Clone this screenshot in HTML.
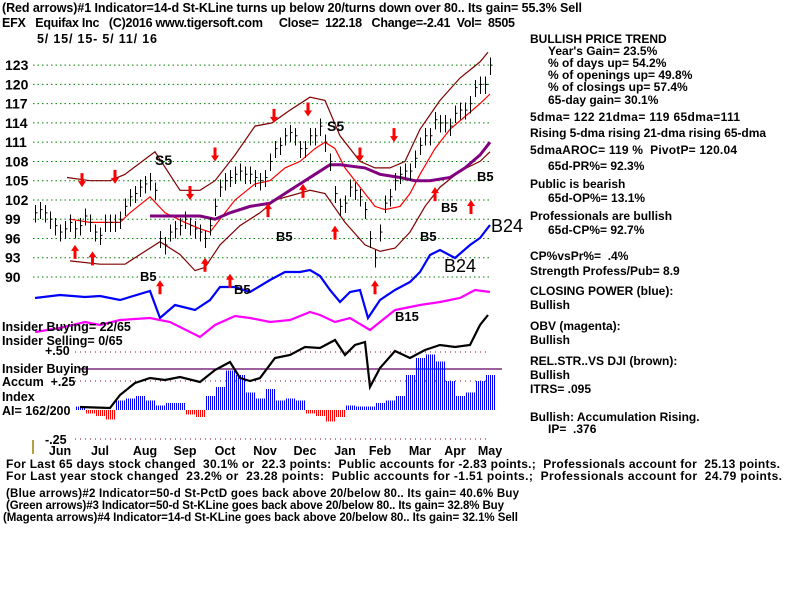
<!DOCTYPE html>
<html><head><meta charset="utf-8"><style>
body{margin:0;background:#fff;}
svg{display:block;font-family:"Liberation Sans",sans-serif;font-weight:bold;}
</style></head><body>
<svg id="chart" width="800" height="600" viewBox="0 0 800 600">
<g font-size="12.5">
<text x="2" y="12" textLength="580">(Red arrows)#1 Indicator=14-d St-KLine turns up below 20/turns down over 80.. Its gain= 55.3% Sell</text>
<text x="2" y="27" textLength="513" xml:space="preserve">EFX   Equifax Inc   (C)2016 www.tigersoft.com     Close=  122.18   Change=-2.41  Vol=  8505</text>
<text x="37" y="43" textLength="120" xml:space="preserve">5/ 15/ 15- 5/ 11/ 16</text>
</g>
<g id="grid"></g>
<g id="ylabels" font-size="14"></g>
<g id="series"></g>
<g font-size="12.5">
<text x="2" y="331">Insider Buying= 22/65</text>
<text x="2" y="345">Insider Selling= 0/65</text>
<text x="45" y="355">+.50</text>
<text x="2" y="373">Insider Buying</text>
<text x="2" y="386" xml:space="preserve">Accum  +.25</text>
<text x="2" y="401">Index</text>
<text x="2" y="415">AI= 162/200</text>
<text x="45" y="444">-.25</text>
<line x1="33" y1="440" x2="33" y2="454" stroke="#a08000" stroke-width="1.5"/>
</g>
<g id="months" font-size="12.5"></g>
<g font-size="12">
<text x="530" y="43">BULLISH PRICE TREND</text>
<text x="548" y="55">Year's Gain= 23.5%</text>
<text x="548" y="67">% of days up= 54.2%</text>
<text x="548" y="79">% of openings up= 49.8%</text>
<text x="548" y="91">% of closings up= 57.4%</text>
<text x="548" y="104">65-day gain= 30.1%</text>
<text x="530" y="121" textLength="210">5dma= 122 21dma= 119 65dma=111</text>
<text x="530" y="137" textLength="236">Rising 5-dma  rising 21-dma  rising 65-dma</text>
<text x="530" y="154" textLength="207" xml:space="preserve">5dmaAROC= 119 %  PivotP= 120.04</text>
<text x="548" y="170">65d-PR%= 92.3%</text>
<text x="530" y="188">Public is bearish</text>
<text x="548" y="202">65d-OP%= 13.1%</text>
<text x="530" y="220">Professionals are bullish</text>
<text x="548" y="234">65d-CP%= 92.7%</text>
<text x="530" y="260" xml:space="preserve">CP%vsPr%=  .4%</text>
<text x="530" y="275">Strength Profess/Pub= 8.9</text>
<text x="530" y="295">CLOSING POWER (blue):</text>
<text x="530" y="309">Bullish</text>
<text x="530" y="330">OBV (magenta):</text>
<text x="530" y="344">Bullish</text>
<text x="530" y="365">REL.STR..VS DJI (brown):</text>
<text x="530" y="379">Bullish</text>
<text x="530" y="393">ITRS= .095</text>
<text x="530" y="421">Bullish: Accumulation Rising.</text>
<text x="548" y="433" xml:space="preserve">IP=  .376</text>
</g>
<g font-size="12">
<text x="6" y="468" textLength="774" xml:space="preserve">For Last 65 days stock changed  30.1% or  22.3 points:  Public accounts for -2.83 points.;  Professionals account for  25.13 points.</text>
<text x="6" y="480" textLength="776" xml:space="preserve">For Last year stock changed  23.2% or  23.28 points:  Public accounts for -1.51 points.;  Professionals account for  24.79 points.</text>
<text x="6" y="497" textLength="513" font-size="11.5">(Blue arrows)#2 Indicator=50-d St-PctD goes back above 20/below 80.. Its gain= 40.6% Buy</text>
<text x="6" y="509" textLength="498" font-size="11.5">(Green arrows)#3 Indicator=50-d St-KLine goes back above 20/below 80.. Its gain= 32.8% Buy</text>
<text x="3" y="521" textLength="515" font-size="11.5">(Magenta arrows)#4 Indicator=14-d St-KLine goes back above 20/below 80.. Its gain= 32.1% Sell</text>
</g>
</svg>
<script>
// ---- data ----
const priceTicks = [123,120,117,114,111,108,105,102,99,96,93,90];
const months = ["Jun","Jul","Aug","Sep","Oct","Nov","Dec","Jan","Feb","Mar","Apr","May"];
const monthDays = [5,13,22,30,38,46,54,62,69,77,84,91];
const closes = [100,100.5,100,99,98,97,97.5,98.5,97.5,98,99.5,98.5,97,96.5,98.5,98.5,98.5,99,101,102.5,103,104,104.5,105,103.5,96,95,97,97.5,98,99,98,97.5,97,96,98,101,104,105,105.5,106,106.5,106,106,105.5,105,105.5,108,110,110.5,112,112.5,112,110,110,112,112,113.5,111,108,103,101,101.5,104,103.5,102.5,100.5,96,93,97,101.5,102.5,105,106,106.5,106.5,108.5,110.5,112,112,114.5,114,114,113.5,115.5,116,116,117,119.5,120,120,123];
const upperBandDays = [6.4,11,15,18,24,29,33,36,40,44,47.4,51,55,58,61,65,68,71,74,77,81,85,89,90.6];
const upperBandVals = [105.5,105,105,106,109.5,103.5,103.5,105,109,113.5,114,116,118,117.5,112,108,107,107,108,113,117.5,121,123.5,125];
const lowerBandDays = [7,13,18,20,25,29,32,34,37,41,45,48,55,58,62,66,69,72,75,78,81,85,89,91];
const lowerBandVals = [92.5,92,92,93,95.5,93.5,91,91.5,95,98,100,102,103.5,103,98.5,95,94,94.5,97,101,104,106.5,108,109.5];
const ma21Days = [7,11,17,19,23,26,30,33,35,37,40,44,47,50,53,56,58,60,62,65,68,70,73,75,77,80,83,86,89,91];
const ma21Vals = [99,98.5,98.5,100,102.5,100,98.5,97.5,97,99,102,104.5,105,107,108,110,111,110,107,104,101,100.5,101,103,106,110,113,115,117,118.5];
const ma65Days = [23,29,33,36,39,43,47,50,53,56,59,61,66,69,73,76,79,83,86,89,91];
const ma65Vals = [99.5,99.5,99.5,99,100,101,101.5,103,104.5,106,107.5,107.5,107,106,105.5,105,105,105.5,107,109,111];
const cpDays = [0,5,10,13,17,23,25,28,32,35,37,40,43,47,50,53,55,57,59,61,63,65,66.6,69,72,75,77,79,81,84,87,89,91];
const cpVals = [2,5,3,4,0,9,-18,-5,-10,0,13,13,8,20,28,28,30,24,10,-2,8,10,-18,0,10,18,28,45,50,42,55,62,75];
const obvDays = [0,5,10,13,17,23,27,33,36,40,43,47,51,55,57,60,63,67,69,72,77,81,85,88,91];
const obvVals = [8,12,18,15,20,22,18,3,15,24,22,18,20,28,25,18,22,10,18,30,35,38,42,50,48];
const rsDays = [9,15,17,20,23,26,29,33,36,39,41,43,45,48,51,54,57,60,62,64,66,67,69,72,75,78,81,84,87,89,90.6];
const rsVals = [13,12,25,37,42,40,43,38,50,58,42,39,42,62,65,73,72,80,65,75,78,33,52,69,62,70,75,73,75,95,105];
const aiStartDay = 9;
const aiVals = [0.03,-0.03,-0.05,-0.08,0.08,0.1,0.12,0.08,0.04,0.06,0.06,-0.04,-0.06,0.12,0.2,0.34,0.3,0.15,0.1,0.18,0.08,0.1,0.08,-0.03,-0.05,-0.1,-0.06,0.04,0.03,0.03,0.06,0.08,0.12,0.3,0.45,0.48,0.42,0.25,0.12,0.15,0.25,0.3];
const upArrowDays = [8,11.5,25,34,39,46.6,53.6,60,68,80,87.2];
const upArrowPrices = [95,94,89.5,93,90.5,101.5,104.5,98,89.5,104,102];
const downArrowDays = [9.4,16,31,36,47.8,54.6,65,71.8];
const downArrowPrices = [104,104.5,102,108,114,115,108,111];
// ---- scales ----
const X = d => 35 + d*5;
const Y = p => 277 - (p-90)*6.42;
const CPY = v => 300 - v;
const OBVY = v => 340 - v;
const RSY = v => 420 - v;
const AIY = v => 410 - v*116;
const NS = "http://www.w3.org/2000/svg";
function mk(parent, tag, attrs){const e=document.createElementNS(NS,tag);for(const k in attrs)e.setAttribute(k,attrs[k]);document.getElementById(parent).appendChild(e);return e;}
function pts(days, vals, fy){return days.map((d,i)=>X(d).toFixed(1)+","+fy(vals[i]).toFixed(1)).join(" ");}
priceTicks.forEach(t=>{
  const l=mk("grid","line",{x1:33,x2:490,y1:Y(t),y2:Y(t),stroke:"#008000","stroke-dasharray":"1.5,3"});
  
  
  const tx=mk("ylabels","text",{x:5,y:Y(t)+5});
  tx.textContent=t;
  
  
});
[0.5,0.25,-0.25].forEach(v=>{
  const l=mk("grid","line",{x1:75,x2:490,y1:AIY(v),y2:AIY(v),stroke:"#800040","stroke-dasharray":"1,4"});
  
  
});
const hl=mk("grid","line",{x1:80,x2:502,y1:369,y2:369,stroke:"#600060","stroke-width":1.2});


months.forEach((m,i)=>{
  const t=mk("months","text",{x:X(monthDays[i]),y:455,"text-anchor":"middle"});
  t.textContent=m;
  
  
});
aiVals.forEach((v,i)=>{
  const cx=Math.round(X(aiStartDay+i*2));
  for(let k=-4;k<=5;k+=2){
    const b=mk("series","line",{x1:cx+k+0.5,x2:cx+k+0.5,y1:AIY(0),y2:AIY(v),stroke:v>=0?"#0000ff":"#ff0000","stroke-width":1,"shape-rendering":"crispEdges"});
    
    
  }
});
function pl(days,vals,fy,color,w,dash,name){
  const p=mk("series","polyline",{points:pts(days,vals,fy),fill:"none",stroke:color,"stroke-width":w});
  if(dash)p.setAttribute("stroke-dasharray",dash);
  
  
}
pl(upperBandDays,upperBandVals,Y,"#800000",1.2,null,"upper-band");
pl(lowerBandDays,lowerBandVals,Y,"#800000",1.2,null,"lower-band");
pl(ma21Days,ma21Vals,Y,"#ff0000",1.2,null,"ma21-line");
pl(ma65Days,ma65Vals,Y,"#800080",3,null,"ma65-line");
pl(cpDays,cpVals,CPY,"#0000ff",2.2,null,"closing-power-line");
pl(obvDays,obvVals,OBVY,"#ff00ff",2.2,null,"obv-line");
pl(rsDays,rsVals,RSY,"#000000",2.2,null,"relative-strength-line");
closes.forEach((c,i)=>{
  const x=Math.round(X(i))+0.5;
  const b=mk("series","line",{x1:x,x2:x,y1:Y(c+1.2),y2:Y(c-1.5),stroke:"#000","stroke-width":1,"shape-rendering":"crispEdges"});
  
  
  const t=mk("series","line",{x1:x,x2:x+2,y1:Y(c),y2:Y(c),stroke:"#000","stroke-width":1});
  
  
});
upArrowDays.forEach((d,i)=>{
  const x=X(d),y=Y(upArrowPrices[i]);
  const a=mk("series","path",{d:`M${x-1.5},${y+14}V${y+6}H${x-4}L${x},${y}L${x+4},${y+6}H${x+1.5}V${y+14}Z`,fill:"#ff0000"});
  
  
});
downArrowDays.forEach((d,i)=>{
  const x=X(d),y=Y(downArrowPrices[i]);
  const a=mk("series","path",{d:`M${x-1.5},${y-14}V${y-6}H${x-4}L${x},${y}L${x+4},${y-6}H${x+1.5}V${y-14}Z`,fill:"#ff0000"});
  
  
});
[["S5",155,165,14],["S5",327,131,14],["B5",140,281,13],["B5",234,294,13],["B5",276,241,13],["B5",441,212,13],["B5",477,181,13],["B5",420,241,13],["B15",395,321,13],["B24",491,232,18],["B24",444,272,18]].forEach(a=>{
  const t=mk("series","text",{x:a[1],y:a[2],"font-size":a[3],"font-weight":a[3]>16?"normal":"bold"});
  t.textContent=a[0];
  
  
});
</script>
</body></html>
